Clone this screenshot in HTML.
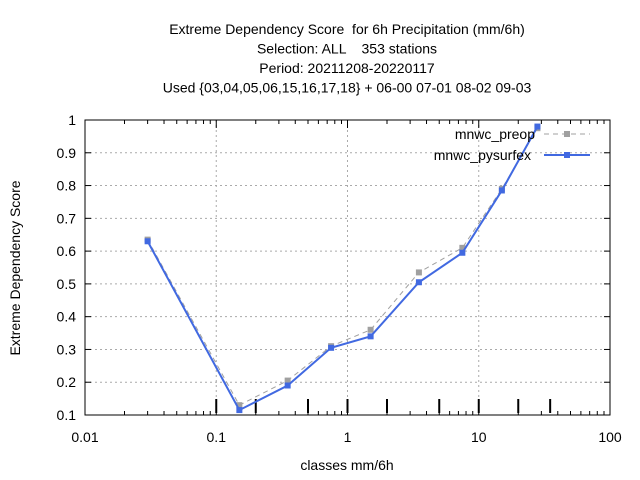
<!DOCTYPE html>
<html><head><meta charset="utf-8"><style>
body{margin:0;background:#fff}
svg{font-family:"Liberation Sans",sans-serif;display:block}
svg text{white-space:pre}
</style></head><body>
<svg id="c" width="640" height="480" xml:space="preserve"></svg>
<script>
const classes=[0.03,0.15,0.35,0.75,1.5,3.5,7.5,15,28];
const preop=[0.635,0.13,0.205,0.31,0.36,0.535,0.61,0.79,0.975];
const pysurfex=[0.63,0.115,0.19,0.305,0.34,0.505,0.595,0.785,0.98];
const thresholds=[0.1,0.2,0.5,1,2,5,10,20,35];
const yTicks=[0.1,0.2,0.3,0.4,0.5,0.6,0.7,0.8,0.9,1];
const xTicks=[0.01,0.1,1,10,100];
const xTickLabels=["0.01","0.1","1","10","100"];
const L=85,R=610,T=120,B=415;
const xs=v=>L+(Math.log10(v)+2)/4*(R-L);
const ys=v=>B-(v-0.1)/0.9*(B-T);
const s=document.getElementById('c');const NS="http://www.w3.org/2000/svg";
function el(t,a,txt){const e=document.createElementNS(NS,t);for(const k in a)e.setAttribute(k,a[k]);if(txt!=null)e.textContent=txt;s.appendChild(e);return e;}
const titles=["Extreme Dependency Score  for 6h Precipitation (mm/6h)","Selection: ALL    353 stations","Period: 20211208-20220117","Used {03,04,05,06,15,16,17,18} + 06-00 07-01 08-02 09-03"];
titles.forEach((t,i)=>{const e=el('text',{x:347,y:34+i*19.5,'text-anchor':'middle','font-size':14},t);});
yTicks.forEach(v=>{const y=ys(v);if(v>0.1&&v<1){const g=el('line',{x1:L,x2:R,y1:y,y2:y,stroke:'#aaa','stroke-dasharray':'2,3','stroke-width':1});}
 el('line',{x1:L,x2:L+6,y1:y,y2:y,stroke:'#000'});el('line',{x1:R,x2:R-6,y1:y,y2:y,stroke:'#000'});
 const t=el('text',{x:L-9,y:y+5,'text-anchor':'end','font-size':14},String(v));});
xTicks.forEach((v,i)=>{const x=xs(v);if(i>0&&i<4){const g=el('line',{x1:x,x2:x,y1:T,y2:B,stroke:'#aaa','stroke-dasharray':'2,3'});}
 el('line',{x1:x,x2:x,y1:B,y2:B-8,stroke:'#000'});el('line',{x1:x,x2:x,y1:T,y2:T+8,stroke:'#000'});
 const t=el('text',{x:x,y:B+27,'text-anchor':'middle','font-size':14},xTickLabels[i]);
 if(i<4)for(let m=2;m<10;m++){const mx=xs(v*m);el('line',{x1:mx,x2:mx,y1:B,y2:B-4,stroke:'#000'});el('line',{x1:mx,x2:mx,y1:T,y2:T+4,stroke:'#000'});}});
const fr=el('rect',{x:L,y:T,width:R-L,height:B-T,fill:'none',stroke:'#000'});
thresholds.forEach(v=>{const m=el('line',{x1:xs(v),x2:xs(v),y1:B-16,y2:B-2,stroke:'#000','stroke-width':2});});
let t=el('text',{x:347,y:470,'text-anchor':'middle','font-size':14},'classes mm/6h');
t=el('text',{x:20,y:268,'text-anchor':'middle','font-size':14,transform:'rotate(-90 20 268)'},'Extreme Dependency Score');
function series(vals,col,dash,name,w){const p=el('polyline',{points:vals.map((v,i)=>xs(classes[i])+','+ys(v)).join(' '),fill:'none',stroke:col,'stroke-width':w,'stroke-dasharray':dash});
 vals.forEach((v,i)=>{const r=el('rect',{x:xs(classes[i])-3,y:ys(v)-3,width:6,height:6,fill:col});});}
series(preop,'#a0a0a0','5,4','preop',1);
series(pysurfex,'#4169e1','','pysurfex',2);
t=el('text',{x:535,y:139,'text-anchor':'end','font-size':14},'mnwc_preop');
let l=el('line',{x1:544,x2:590,y1:134,y2:134,stroke:'#a0a0a0','stroke-dasharray':'5,4'});
el('rect',{x:564,y:131,width:6,height:6,fill:'#a0a0a0'});
t=el('text',{x:531,y:160,'text-anchor':'end','font-size':14},'mnwc_pysurfex');
l=el('line',{x1:544,x2:590,y1:155,y2:155,stroke:'#4169e1','stroke-width':2});
el('rect',{x:564,y:152,width:6,height:6,fill:'#4169e1'});
</script>
</body></html>
